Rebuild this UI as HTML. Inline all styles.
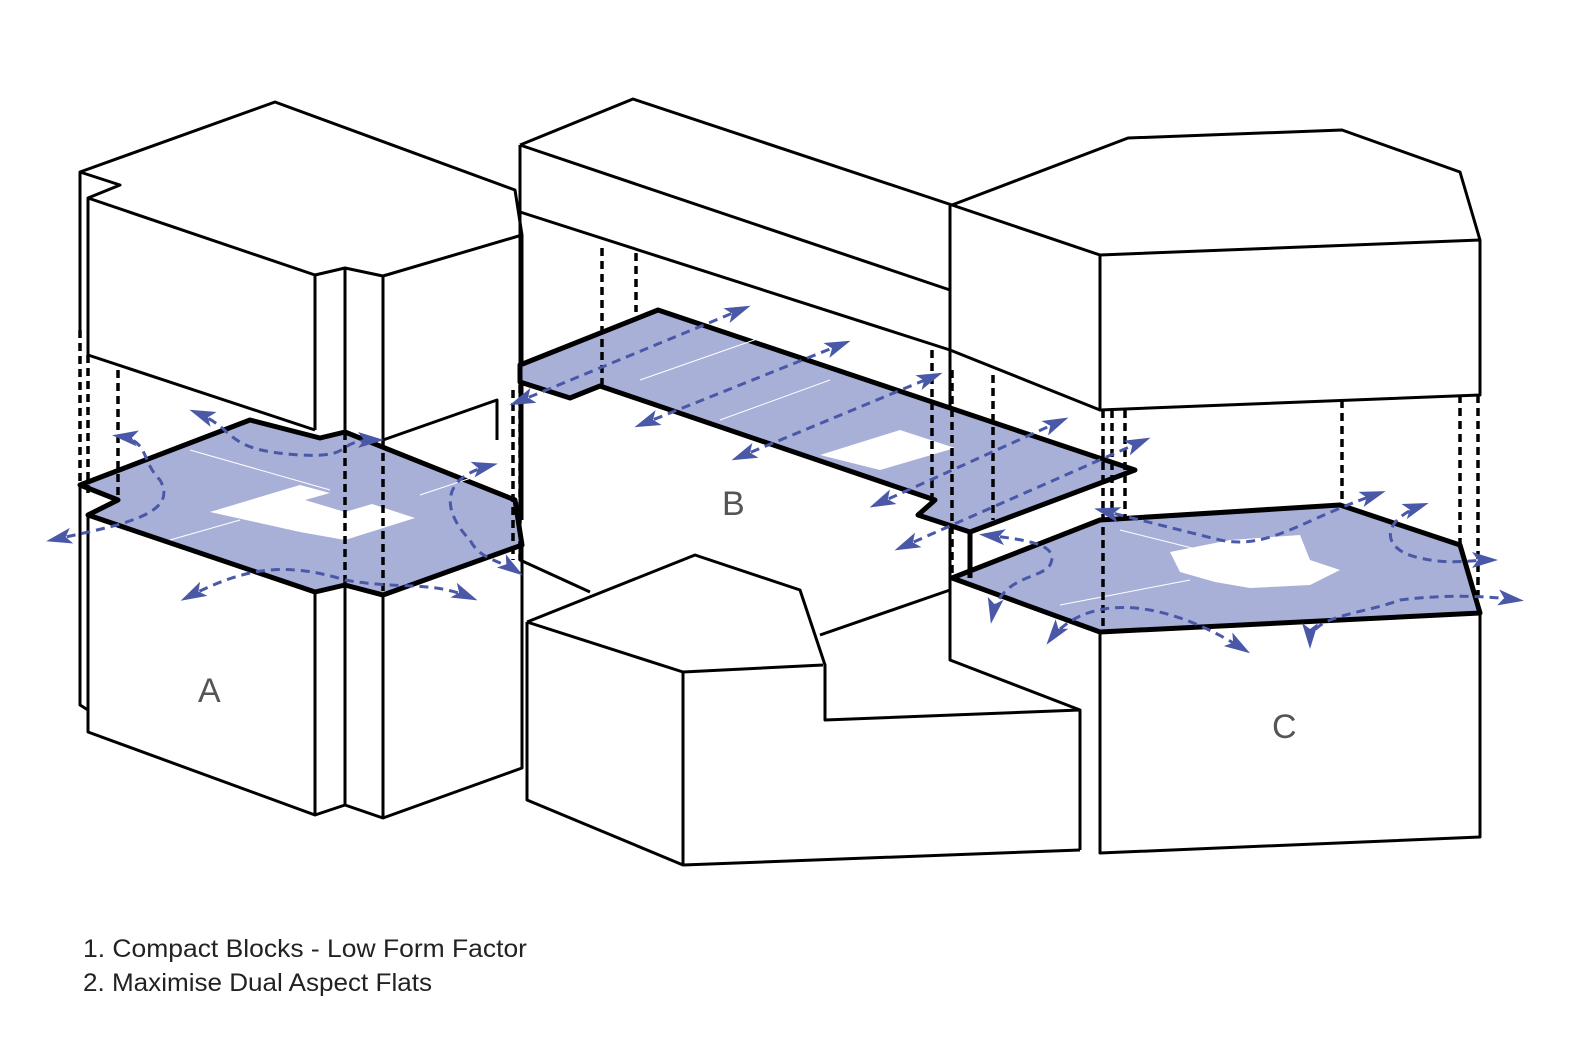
<!DOCTYPE html>
<html><head><meta charset="utf-8"><style>
html,body{margin:0;padding:0;background:#fff;}
svg{display:block;}
</style></head><body>
<svg width="1576" height="1037" viewBox="0 0 1576 1037" xmlns="http://www.w3.org/2000/svg">
<defs>
<marker id="ah" viewBox="0 0 10 10" refX="8" refY="5" markerWidth="10" markerHeight="10" orient="auto-start-reverse" markerUnits="userSpaceOnUse" style="overflow:visible">
<path d="M-12,-3 L14,5 L-12,13 L-6,5 Z" fill="#4a58a8"/>
</marker>
</defs>
<rect width="1576" height="1037" fill="#fff"/>
<g fill="none" stroke="#000" stroke-width="3" stroke-linejoin="round">
<path d="M80,172 L275,102 L515,190 L522,235 L383,276 L345,268 L315,275 L88,198 L120,185 Z" fill="#fff"/>
<path d="M88,198 L88,355 L315,430 M315,275 L315,430 M345,268 L345,430 M383,276 L383,440 L497,400 L497,440 M522,235 L522,520 M80,172 L80,330"/>
<path d="M88,515 L88,732 L315,815 L315,592 M345,585 L345,805 L383,818 L383,595 M383,818 L522,768 L522,545 M80,485 L80,705 L88,710 M315,815 L345,805"/>
<path d="M520,145 L633,99 L952,205 M520,145 L950,290 M520,212 L950,350 L1100,410 M520,145 L520,385 M520,385 L520,560 L590,592 M950,205 L950,660 L1080,710 L1080,850"/>
<path d="M527,622 L695,555 L800,590 L825,665 L825,720 L1080,710 M527,622 L683,672 L683,865 L1080,850 M527,622 L527,800 L683,865 M683,672 L823,665 M820,635 L950,590"/>
<path d="M952,205 L1128,138 L1342,130 L1460,172 L1480,240 L1100,255 Z M1100,255 L1100,410 L1480,395 L1480,240"/>
<path d="M1100,632 L1100,853 L1480,837 L1480,613"/>
</g>
<g stroke="#000" stroke-width="5" stroke-linejoin="round">
<path d="M80,485 L250,420 L320,438 L345,432 L515,500 L522,545 L383,595 L345,585 L315,592 L88,515 L118,500 Z" fill="#a9b0d8"/>
<path d="M520,365 L658,310 L1135,470 L970,532 L918,515 L935,500 L600,386 L570,398 L520,382 Z" fill="#a9b0d8"/>
<path d="M952,578 L1100,520 L1340,505 L1460,545 L1480,613 L1100,632 Z" fill="#a9b0d8"/>
<path d="M970,532 L970,578" fill="none"/>
</g>
<g fill="#fff">
<path d="M210,512 L300,485 L330,493 L305,500 L345,512 L372,504 L415,518 L345,540 L300,532 Z"/>
<path d="M820,455 L900,430 L955,448 L880,470 Z"/>
<path d="M1170,552 L1230,540 L1300,535 L1310,560 L1340,570 L1310,585 L1250,588 L1215,582 L1180,572 Z"/>
</g>
<g stroke="#fff" stroke-width="1" fill="none">
<path d="M190,450 L330,490 M170,540 L240,520 M420,495 L480,475 M640,380 L760,338 M720,420 L830,380 M1120,530 L1200,550 M1190,580 L1060,605"/>
</g>
<g stroke="#000" stroke-width="3.5" stroke-dasharray="8,5" fill="none">
<path d="M80,330 L80,485 M88,355 L88,498 M118,370 L118,500 M345,432 L345,585 M383,440 L383,595"/>
<path d="M602,248 L602,388 M636,253 L636,312 M513,390 L513,560 M520,385 L520,560 M932,350 L932,500 M952,370 L952,578 M993,375 L993,520"/>
<path d="M1103,410 L1103,632 M1112,410 L1112,520 M1125,410 L1125,520 M1342,400 L1342,505 M1460,395 L1460,545 M1478,395 L1478,600"/>
</g>
<g stroke="#4a58a8" stroke-width="3" stroke-dasharray="9,6" fill="none" marker-start="url(#ah)" marker-end="url(#ah)">
<path d="M52,540 C120,525 180,515 160,480 C140,460 150,440 118,436"/>
<path d="M195,412 C240,430 220,450 300,455 C360,458 330,440 378,440"/>
<path d="M186,598 C240,570 280,560 345,580 C400,590 430,580 472,598"/>
<path d="M492,465 C430,480 450,520 470,540 C480,560 500,560 518,572"/>
<path d="M515,403 L745,308"/>
<path d="M640,425 L845,343"/>
<path d="M737,458 L937,375"/>
<path d="M875,505 L1063,420"/>
<path d="M900,548 L1145,440"/>
<path d="M985,535 C1030,540 1060,545 1050,565 C1040,580 1000,575 992,618"/>
<path d="M1050,640 C1080,600 1150,590 1245,650"/>
<path d="M1100,510 C1140,520 1180,530 1220,540 C1270,550 1300,520 1380,493"/>
<path d="M1310,643 C1310,615 1360,615 1400,600 C1440,595 1480,595 1518,600"/>
<path d="M1423,505 C1380,520 1380,550 1420,558 C1450,565 1470,560 1492,560"/>
</g>
<g font-family="'Liberation Sans', sans-serif" fill="#555">
<text x="198" y="702" font-size="34">A</text>
<text x="722" y="515" font-size="34">B</text>
<text x="1272" y="738" font-size="34">C</text>
</g>
<g font-family="'Liberation Sans', sans-serif" font-size="25" fill="#222">
<text x="83" y="957" textLength="444" lengthAdjust="spacingAndGlyphs">1. Compact Blocks - Low Form Factor</text>
<text x="83" y="991" textLength="349" lengthAdjust="spacingAndGlyphs">2. Maximise Dual Aspect Flats</text>
</g>
</svg>
</body></html>
